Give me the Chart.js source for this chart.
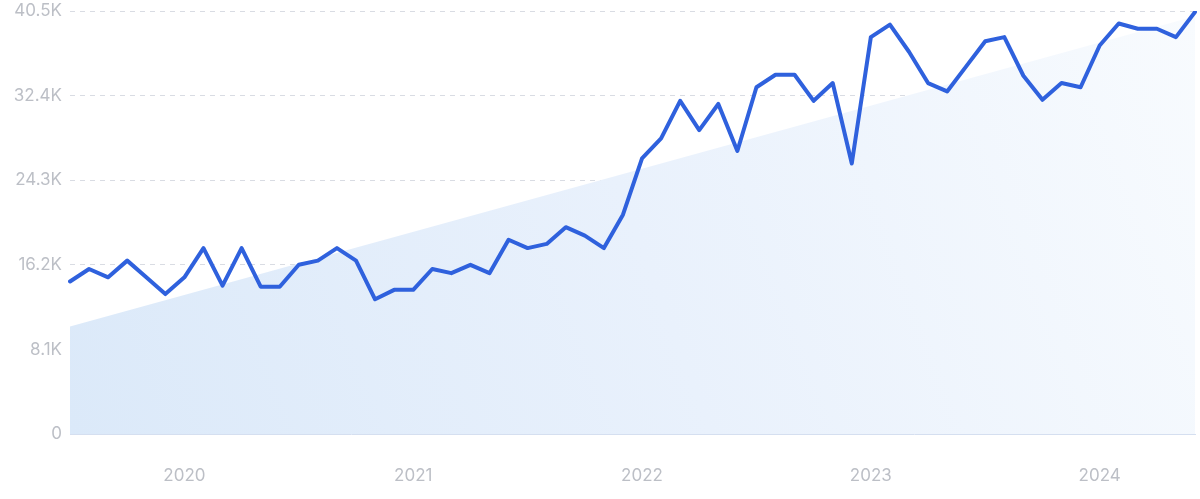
<!DOCTYPE html>
<html>
<head>
<meta charset="utf-8">
<script src="https://cdn.jsdelivr.net/npm/chart.js@4/dist/chart.umd.min.js"></script>
<style>
  html, body { margin: 0; padding: 0; background: #fff; }
  #wrap { width: 1200px; height: 499px; }
</style>
</head>
<body>
<div id="wrap"><canvas id="chart"></canvas></div>
<script>
// monthly values, Jul 2019 - Jun 2024
var months = [
    '2019-07','2019-08','2019-09','2019-10','2019-11','2019-12',
    '2020-01','2020-02','2020-03','2020-04','2020-05','2020-06','2020-07','2020-08','2020-09','2020-10','2020-11','2020-12',
    '2021-01','2021-02','2021-03','2021-04','2021-05','2021-06','2021-07','2021-08','2021-09','2021-10','2021-11','2021-12',
    '2022-01','2022-02','2022-03','2022-04','2022-05','2022-06','2022-07','2022-08','2022-09','2022-10','2022-11','2022-12',
    '2023-01','2023-02','2023-03','2023-04','2023-05','2023-06','2023-07','2023-08','2023-09','2023-10','2023-11','2023-12',
    '2024-01','2024-02','2024-03','2024-04','2024-05','2024-06'
];
var searches = [
    14600, 15800, 15000, 16600, 15000, 13400,
    15000, 17800, 14200, 17800, 14100, 14100, 16200, 16600, 17800, 16600, 12900, 13800,
    13800, 15800, 15400, 16200, 15400, 18600, 17800, 18200, 19800, 19000, 17800, 21000,
    26400, 28300, 31900, 29100, 31600, 27100, 33200, 34400, 34400, 31900, 33600, 25900,
    38000, 39200, 36600, 33600, 32800, 35200, 37600, 38000, 34300, 32000, 33600, 33200,
    37200, 39300, 38800, 38800, 38000, 40400
];
// trend line, read at both ends
var trendStart = 10300;
var trendEnd = 40000;

var yMax = 40500;
var yStep = 8100;

var tickColor = '#bcbfc6';

function trendFill(context) {
    var chart = context.chart;
    var area = chart.chartArea;
    if (!area) return '#e3eefb';
    var g = chart.ctx.createLinearGradient(area.left, area.bottom, area.right, area.top);
    g.addColorStop(0, '#dbe9f9');
    g.addColorStop(0.5, '#e9f1fc');
    g.addColorStop(1, '#f8fbfe');
    return g;
}

var chart = new Chart(document.getElementById('chart'), {
    type: 'line',
    data: {
        labels: months,
        datasets: [{
            label: 'Searches',
            data: searches,
            borderColor: '#2f61dd',
            borderWidth: 4,
            pointRadius: 0,
            tension: 0,
            borderJoinStyle: 'round',
            borderCapStyle: 'round',
            fill: false
        }, {
            label: 'Trend',
            data: [
                {x: months[0], y: trendStart},
                {x: months[months.length - 1], y: trendEnd}
            ],
            borderWidth: 0,
            borderColor: 'rgba(0,0,0,0)',
            backgroundColor: trendFill,
            pointRadius: 0,
            fill: 'origin'
        }]
    },
    options: {
        responsive: true,
        maintainAspectRatio: false,
        animation: false,
        layout: { padding: { top: 11, right: 5, left: 0, bottom: 0 } },
        plugins: {
            legend: { display: false },
            tooltip: { enabled: false }
        },
        scales: {
            x: {
                offset: false,
                grid: { display: false, drawTicks: false },
                border: { display: true, color: '#d5dff0', width: 1 },
                ticks: {
                    autoSkip: false,
                    maxRotation: 0,
                    padding: 32,
                    color: tickColor,
                    font: { family: 'Inter', size: 17 },
                    callback: function (val, i) {
                        var m = months[i];
                        return m.slice(5) === '01' ? m.slice(0, 4) : null;
                    }
                },
                afterFit: function (axis) {
                    axis.height = 65;
                    axis.paddingLeft = 0;
                    axis.paddingRight = 0;
                }
            },
            y: {
                min: 0,
                max: yMax,
                border: { display: false, dash: [5, 5] },
                grid: {
                    drawTicks: false,
                    lineWidth: 1,
                    color: function (ctx) {
                        return ctx.tick && ctx.tick.value === 0 ? 'rgba(0,0,0,0)' : '#d9dce3';
                    }
                },
                ticks: {
                    stepSize: yStep,
                    padding: 8,
                    color: tickColor,
                    font: { family: 'Inter', size: 17 },
                    callback: function (v) {
                        if (v === 0) return '0';
                        return (v / 1000).toFixed(1) + 'K';
                    }
                },
                afterFit: function (axis) {
                    axis.width = 70;
                    axis.paddingTop = 0;
                    axis.paddingBottom = 0;
                }
            }
        }
    }
});
</script>
</body>
</html>
